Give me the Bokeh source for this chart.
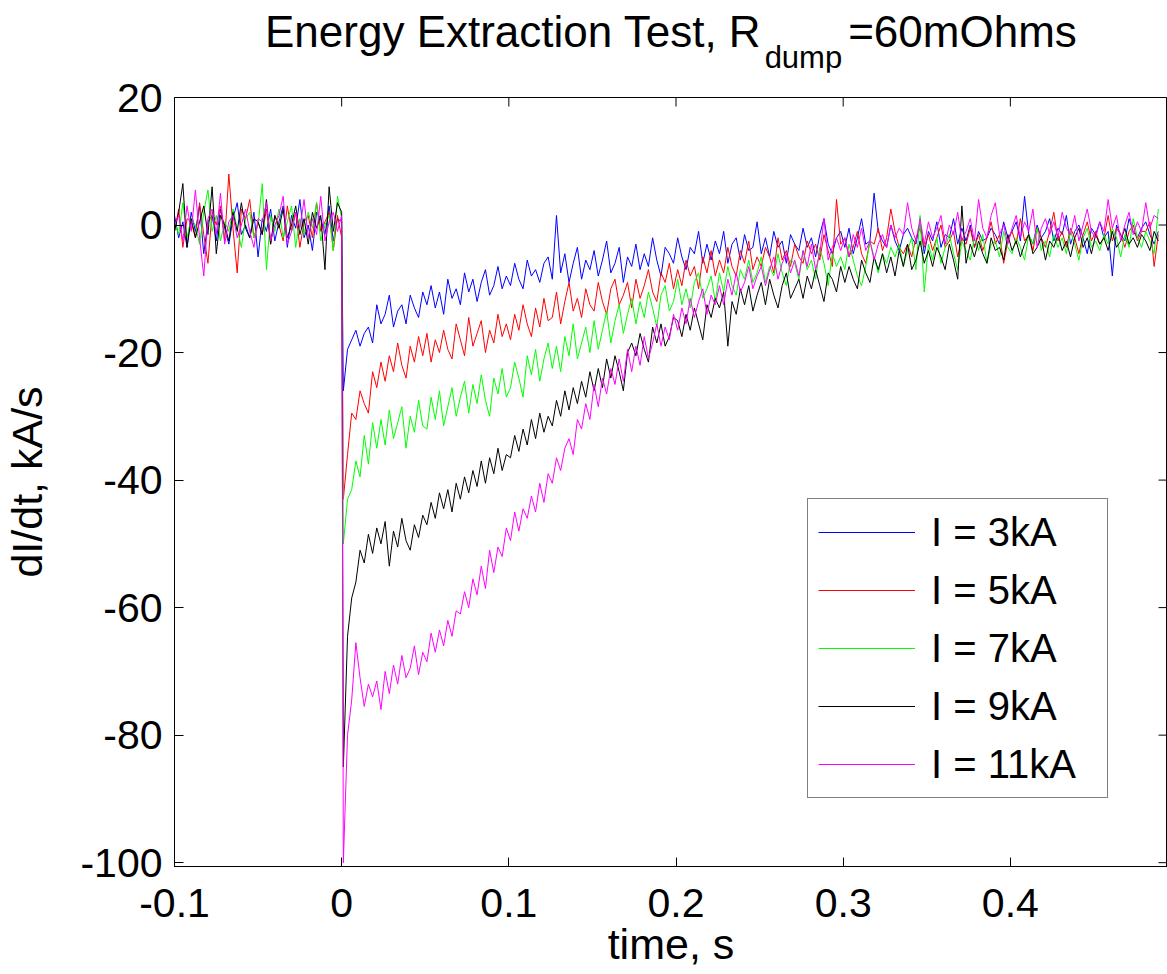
import numpy as np
from bokeh.plotting import figure
from bokeh.models import Range1d, Legend, LegendItem, FixedTicker, Div
from bokeh.layouts import column
from bokeh.embed import file_html
from bokeh.resources import INLINE

FONT = "Liberation Sans"

# sampling grid (s): pre-trigger and post-trigger samples
t_pre = np.round(-0.1 + 0.0025 * np.arange(41), 5)
t_post = np.round(0.001 + 0.0025 * np.arange(196), 5)
time_s = np.concatenate([t_pre, t_post])

x_ticks = [-0.1, 0.0, 0.1, 0.2, 0.3, 0.4]
x_tick_labels = ["-0.1", "0", "0.1", "0.2", "0.3", "0.4"]
y_ticks = [-100, -80, -60, -40, -20, 0, 20]
y_tick_labels = ["-100", "-80", "-60", "-40", "-20", "0", "20"]

labels = ["I = 3kA", "I = 5kA", "I = 7kA", "I = 9kA", "I = 11kA"]
colors = ["#0000FF", "#FF0000", "#00FF00", "#000000", "#FF00FF"]

title_main, title_sub, title_end = "Energy Extraction Test, R", "dump", "=60mOhms"

# dI/dt, kA/s
blue_pre = [1.5, -2.0, 0.5, -3.5, 2.0, -1.0, 3.0, -4.5, 0.5, 1.5,
            -2.5, 2.5, -0.5, -3.0, 1.0, 3.5, -1.5, 0.0, -2.0, 2.0,
            -5.0, 1.0, -1.0, 2.5, -2.5, 0.5, 3.0, -3.5, 1.5, -0.5,
            4.0, -2.0, 0.0, -4.0, 2.0, 1.0, -1.5, 3.0, -2.5, 1.0, 0.5]
blue_post = [-26.0, -19.5, -18.0, -16.5, -19.0, -17.0, -16.0, -18.5, -12.5, -15.5,
             -14.0, -11.0, -16.0, -13.5, -12.5, -15.5, -11.0, -13.0, -14.5, -10.5,
             -12.5, -9.5, -13.0, -10.5, -14.0, -8.5, -11.5, -10.0, -12.5, -7.5,
             -10.5, -8.5, -12.0, -9.0, -7.0, -11.0, -9.5, -6.5, -10.0, -8.0,
             -9.5, -6.0, -8.5, -10.0, -5.5, -8.0, -7.0, -9.0, -6.0, -5.0,
             -8.5, 1.5, -7.5, -4.5, -9.0, -6.0, -3.5, -8.5, -5.5, -7.0,
             -4.0, -8.0, -5.5, -2.5, -7.5, -6.0, -3.5, -9.0, -5.0, -6.5,
             -3.0, -7.0, -4.5, -6.5, -2.0, -5.5, -8.0, -3.5, -4.5, -6.0,
             -2.0, -5.0, -7.0, -3.5, -4.5, -1.0, -6.0, -3.0, -5.5, -2.5,
             -4.5, -1.0, -6.0, -3.0, -2.0, -5.5, -1.5, -4.0, -3.5, 0.5,
             -4.5, -2.0, -5.0, -1.0, -3.5, -2.5, -6.0, -1.5, -3.0, -4.0,
             -0.5, -3.5, -2.0, -5.0, -1.5, 1.0, -3.0, -4.5, -2.0, -1.0,
             -3.5, -0.5, -4.5, -2.0, 1.0, -3.0, -2.5, 5.0, -1.0, -2.5,
             -3.5, 0.0, -2.5, -4.0, -1.5, -0.5, -2.0, -3.0, 0.5, -4.5,
             -1.0, -2.5, 0.5, -3.5, -1.5, -2.0, 1.0, -3.0, -0.5, -2.5,
             0.0, -3.5, -1.0, -2.5, -2.0, -0.5, -1.5, -3.0, 0.5, -2.0,
             -1.0, 0.5, -2.5, 4.5, -1.5, -3.0, 0.0, -2.0, -1.0, 1.0,
             -2.5, -0.5, -1.5, 1.5, -3.0, -1.0, 0.0, -2.0, -4.5, -0.5,
             -1.5, 0.5, -2.0, -1.0, -8.0, 0.0, -1.5, -2.5, 1.0, -1.0,
             -2.0, -0.5, 0.5, -1.5, -3.0, -1.0]

red_pre = [-1.0, 2.5, -3.5, 1.0, 0.5, -2.0, 3.5, -1.5, -6.0, 2.0,
           0.0, 3.0, -2.5, 8.0, -0.5, -7.5, 2.5, 1.0, 4.0, -2.0,
           0.5, -1.5, 2.5, -3.0, 1.5, 0.0, -2.5, 3.0, -1.0, 2.0,
           -3.5, 0.5, 1.5, -2.0, 3.5, -1.0, 0.5, 2.0, -4.0, 1.5, -2.0]
red_post = [-43.0, -36.0, -29.5, -30.5, -26.0, -28.0, -29.5, -23.0, -25.5, -21.5,
            -24.5, -20.5, -23.0, -18.5, -22.0, -24.0, -19.0, -21.5, -17.5, -20.5,
            -17.0, -21.5, -18.0, -20.0, -16.5, -19.5, -21.0, -15.5, -18.0, -20.5,
            -14.5, -19.0, -17.0, -15.0, -20.0, -16.5, -18.5, -14.0, -17.5, -15.5,
            -18.0, -14.0, -16.5, -12.5, -15.5, -17.5, -13.0, -16.0, -11.5, -15.0,
            -14.5, -10.5, -15.5, -12.0, -9.0, -13.5, -11.5, -14.5, -10.0, -12.5,
            -13.5, -9.0, -12.0, -14.0, -10.0, -8.5, -12.5, -11.0, -9.0, -13.0,
            -8.5, -11.5, -9.5, -7.0, -10.5, -12.0, -7.5, -9.0, -6.0, -10.0,
            -7.0, -9.5, -5.5, -8.0, -6.5, -10.0, -5.0, -7.5, -4.0, -8.0,
            -5.5, -7.5, -3.5, -6.5, -8.0, -4.0, -6.0, -2.5, -7.0, -5.0,
            -6.5, -3.5, -5.0, -7.5, -2.0, -5.5, -4.0, -6.5, -3.0, -5.0,
            -6.0, -2.5, -4.5, -3.0, -5.5, -1.5, -4.0, -6.5, 4.0, -3.0,
            -2.0, -5.0, -3.5, -1.0, -4.5, -6.0, -2.5, -3.0, -0.5, -4.0,
            -2.0, 2.5, -1.0, -3.5, -4.5, -3.0, -5.0, -2.0, -0.5, -3.5,
            -1.5, -4.0, -2.0, 0.0, -3.5, -2.5, -1.0, -5.0, -2.0, -3.0,
            -0.5, -3.5, -1.5, -4.0, -2.0, 0.5, -3.0, -1.5, -6.0, -2.5,
            -1.0, -3.0, 1.0, -2.5, -1.5, -4.0, -0.5, -2.0, -3.5, -1.0,
            2.0, -2.5, -1.0, -3.5, -0.5, -2.0, -4.5, -1.5, 0.5, -2.5,
            -1.0, -3.0, -2.0, 1.5, -2.5, -0.5, -1.5, -3.5, -1.0, 0.0,
            -2.5, -1.0, -1.0, 0.5, -6.5, -1.5]

green_pre = [0.5, -1.5, 3.5, -2.0, 1.0, 0.0, -3.0, 2.0, 5.5, -1.0,
             1.5, -2.5, 0.5, -1.0, 2.5, -0.5, -3.5, 1.0, 2.0, -2.0,
             0.0, 6.5, -7.0, 1.5, -1.0, 2.5, -2.0, 0.5, 3.0, -3.5,
             1.0, -1.5, 2.0, -0.5, 3.5, -2.5, 0.0, 1.5, -4.0, 4.5, 1.0]
green_post = [-50.0, -43.0, -41.5, -37.0, -39.5, -33.0, -37.5, -31.0, -35.0, -30.5,
              -34.5, -29.0, -33.5, -31.0, -28.5, -35.0, -30.0, -32.5, -27.5, -31.5,
              -32.0, -27.0, -30.5, -26.0, -31.5, -28.5, -25.5, -30.0, -27.0, -24.5,
              -29.5, -25.0, -28.0, -23.5, -27.5, -30.0, -24.0, -26.5, -22.5, -27.0,
              -25.5, -21.5, -24.0, -27.0, -20.5, -23.5, -19.5, -24.5, -21.0, -18.5,
              -22.5, -19.0, -23.0, -17.5, -20.5, -15.5, -21.0, -18.5, -16.0, -20.0,
              -15.0, -19.5, -16.5, -13.5, -18.5, -15.0, -12.5, -17.0, -14.0, -11.5,
              -15.5, -12.0, -14.5, -10.5, -13.0, -16.0, -11.0, -9.5, -13.5, -12.0,
              -8.5, -12.5, -10.0, -13.0, -9.0, -7.5, -11.5, -10.0, -8.0, -12.0,
              -7.5, -10.5, -6.5, -9.5, -11.0, -7.0, -8.5, -5.5, -9.0, -7.5,
              -5.0, -9.0, -6.5, -8.0, -4.5, -7.5, -9.5, -5.5, -6.0, -8.5,
              -4.0, -7.0, -5.5, -8.5, -3.5, -6.0, -9.5, -4.5, -6.5, -5.0,
              -7.0, -3.0, -5.5, -8.0, -9.5, -6.5, -2.5, -5.0, -7.5, -4.5,
              -6.0, -3.5, -5.0, -3.0, -6.5, -4.0, -2.0, -7.0, 1.5, -10.5,
              -3.0, -5.5, -2.0, -6.0, -3.5, -1.5, -4.5, -7.0, -2.5, -4.0,
              -5.5, -2.0, -4.0, -1.5, -6.0, -3.0, -2.5, -5.0, -1.0, -3.5,
              -4.5, -2.0, -3.5, -5.5, -1.5, -3.0, -0.5, -4.0, -2.5, -5.0,
              -1.5, -3.5, -2.0, -4.5, -1.0, -3.0, -5.5, -2.0, -0.5, -3.5,
              -2.5, -4.0, -1.5, -3.0, -0.5, -2.0, -5.0, -1.5, -3.5, 1.0,
              -2.0, -3.5, -1.0, -2.5, -4.5, 2.5]

black_pre = [-1.0, 2.0, 6.5, -3.5, 1.0, -2.0, 0.5, 3.0, -1.5, 6.0,
             -4.5, 1.5, 0.0, -2.5, 2.0, -1.0, 3.5, -0.5, -2.0, 1.0,
             0.5, -1.5, 4.0, -3.0, 1.5, -0.5, 2.5, -2.0, 0.0, 3.0,
             -1.5, 1.0, -3.0, 2.0, -0.5, 1.5, -7.0, 6.0, -1.0, 3.5, 2.0]
black_post = [-85.0, -64.5, -58.5, -56.0, -51.0, -53.0, -48.5, -51.5, -47.5, -50.0,
              -46.5, -53.5, -48.0, -50.5, -46.0, -49.5, -51.0, -47.0, -49.0, -45.5,
              -47.0, -43.5, -46.0, -42.0, -44.5, -41.5, -45.0, -40.5, -43.0, -39.5,
              -42.0, -38.5, -41.0, -37.0, -40.5, -36.5, -39.0, -35.0, -38.5, -36.0,
              -36.5, -33.0, -35.5, -32.0, -34.5, -30.5, -33.5, -29.5, -32.5, -30.0,
              -31.5, -27.5, -30.0, -26.0, -29.0, -25.5, -28.0, -24.5, -27.0, -23.0,
              -26.0, -22.5, -25.5, -21.0, -24.0, -20.5, -23.0, -26.0, -20.0, -18.5,
              -20.5, -17.0, -19.5, -21.5, -16.0, -18.5, -15.5, -19.0, -17.5, -14.5,
              -15.0, -17.5, -14.0, -16.5, -13.0, -15.5, -18.0, -12.5, -14.5, -11.5,
              -13.0, -10.5, -19.0, -12.0, -14.0, -10.0, -12.5, -9.5, -13.5, -11.0,
              -9.0, -12.5, -8.5, -11.0, -13.0, -9.5, -7.5, -11.5, -10.0, -8.5,
              -11.5, -8.0, -10.0, -7.0, -9.5, -12.0, -7.5, -8.5, -10.5, -6.5,
              -9.0, -6.5, -8.5, -10.0, -5.5, -7.5, -9.0, -5.0, -7.0, -4.5,
              -7.5, -5.0, -8.0, -4.0, -6.5, -3.0, -7.0, -5.5, -2.5, -6.0,
              -4.0, -6.5, -3.5, -5.0, -7.0, -3.0, -5.5, -8.5, 3.0, -6.0,
              -3.0, -5.0, -2.5, -4.5, -6.0, -2.0, -4.0, -3.5, -5.5, -1.5,
              -4.0, -2.5, -5.0, -3.0, -1.5, -4.5, -3.5, -2.0, -5.5, -2.5,
              -3.5, -1.5, -4.0, -2.5, -5.0, -2.0, -0.5, -3.5, -2.0, -4.5,
              -1.5, -3.0, -2.0, -4.0, -1.0, -3.5, -2.5, -0.5, -3.0, -2.0,
              -3.5, -1.5, -2.5, -4.0, -1.0, -2.5]

magenta_pre = [0.0, 1.5, -2.5, 3.0, -1.0, 5.5, -2.0, -8.0, 1.0, 2.5,
               -1.5, 5.0, -3.0, 0.5, 1.5, -2.0, 0.0, 2.5, -1.0, -3.5,
               1.0, 0.5, 3.5, -2.5, 0.0, 1.5, 4.5, -3.0, -1.0, 2.0,
               -0.5, 4.0, -2.0, 1.0, -1.5, 4.5, -2.5, 0.5, 2.0, -1.0, 1.5]
magenta_post = [-100.0, -80.0, -74.5, -65.5, -71.0, -75.5, -72.0, -74.0, -71.5, -76.0,
                -70.0, -73.5, -69.0, -72.0, -67.5, -71.0, -69.5, -66.0, -70.5, -67.0,
                -68.5, -64.0, -67.0, -63.5, -66.0, -62.0, -64.5, -60.5, -61.0, -57.5,
                -60.0, -55.5, -58.0, -53.5, -57.0, -51.0, -54.5, -50.5, -52.0, -47.5,
                -49.5, -45.0, -48.0, -44.5, -46.0, -42.5, -45.0, -40.5, -43.5, -39.0,
                -40.5, -36.5, -38.5, -35.0, -33.5, -36.0, -30.5, -32.0, -28.0, -30.5,
                -25.0, -28.5, -24.0, -26.5, -22.5, -25.0, -21.0, -24.5, -19.5, -23.0,
                -19.0, -22.0, -17.5, -21.0, -18.5, -15.5, -19.0, -16.0, -18.0, -14.0,
                -16.5, -13.0, -15.5, -11.5, -14.5, -12.0, -10.0, -14.0, -11.0, -12.5,
                -9.5, -12.5, -8.5, -11.0, -7.5, -10.5, -9.0, -6.5, -10.0, -8.0,
                -6.5, -9.5, -7.0, -5.0, -8.5, -6.0, -4.5, -7.5, -5.5, -8.0,
                -4.0, -6.5, -3.0, -7.0, -4.5, 1.0, -5.5, -3.5, -2.0, -4.0,
                -2.0, -5.0, -1.5, -3.5, -0.5, -4.0, -2.5, -5.5, -3.0, -1.5,
                -3.5, 0.0, -2.0, -0.5, -1.5, 3.5, -0.5, -2.5, 1.0, -3.0,
                0.5, -2.0, -0.5, 1.5, -3.0, 0.0, -1.5, 2.0, -2.5, -1.0,
                1.0, -2.5, 4.0, -0.5, -2.0, 1.5, 3.5, -1.5, 0.0, -3.0,
                -0.5, 1.5, -2.0, 0.5, -1.0, 2.5, -3.5, -0.5, 1.0, -1.5,
                0.5, -2.0, 2.0, -0.5, -1.5, 1.5, -2.5, 0.0, 2.5, -1.0,
                -2.0, 0.5, -1.0, 4.0, -0.5, 1.5, -2.5, 0.0, 2.0, -1.5,
                0.5, -1.0, 3.5, -0.5, 1.5, 1.0]

series = [blue_pre + blue_post, red_pre + red_post, green_pre + green_post,
          black_pre + black_post, magenta_pre + magenta_post]

# ---- layout constants (pixels) ----
W, H = 1167, 974
DIV_H = 72
FRAME_L, FRAME_T, FRAME_B, FRAME_R = 172, 97, 866, 1167
X_END = 0.494
Y_START = -100.6
TICK_PX = 9
F, f = 44, 31  # title font sizes
x_per_px = (X_END + 0.1) / (FRAME_R - FRAME_L)
y_per_px = (20 - Y_START) / (FRAME_B - FRAME_T)

# ---- title as HTML (real subscript) ----
w_total = 0.955 * (11.393 * F + 2.501 * f + 5.196 * F) + 10
x0 = int(round((FRAME_L + W) / 2 - w_total / 2)) - 14
title_html = (
    f'<div style="font-family:\'{FONT}\',Arial,sans-serif;font-size:{F}px;line-height:{F}px;'
    f'color:#000;white-space:nowrap;padding-top:10px;padding-left:{x0}px;margin:0;">'
    f'{title_main}<span style="font-size:{f}px;vertical-align:-21px;margin-left:4px;'
    f'margin-right:6px;">{title_sub}</span>{title_end}</div>'
)
title_div = Div(text=title_html, width=W, height=DIV_H, margin=(0, 0, 0, 0))

p = figure(width=W, height=H - DIV_H, output_backend="svg", toolbar_location=None,
           title=None,
           x_range=Range1d(-0.1, X_END), y_range=Range1d(Y_START, 20),
           min_border_left=FRAME_L, min_border_right=0, min_border_top=FRAME_T - DIV_H,
           min_border_bottom=H - FRAME_B, margin=(0, 0, 0, 0))
p.background_fill_color = "white"
p.border_fill_color = "white"
p.outline_line_color = "black"
p.outline_line_width = 1
p.xgrid.visible = False
p.ygrid.visible = False

renderers = []
for ys, c in zip(series, colors):
    m = min(len(time_s), len(ys))
    r = p.line(list(time_s[:m]), ys[:m], line_color=c, line_width=1)
    renderers.append(r)

# inward ticks on the top and right edges of the box (MATLAB style), from the tick lists
p.segment(x0=x_ticks, y0=[20] * len(x_ticks), x1=x_ticks,
          y1=[20 - TICK_PX * y_per_px] * len(x_ticks), line_color="black", line_width=1)
p.segment(x0=[X_END] * len(y_ticks), y0=y_ticks, x1=[X_END - TICK_PX * x_per_px] * len(y_ticks),
          y1=y_ticks, line_color="black", line_width=1)


def style_axis(ax, standoff):
    ax.major_tick_in = TICK_PX
    ax.major_tick_out = 0
    ax.minor_tick_in = 0
    ax.minor_tick_out = 0
    ax.axis_line_color = "black"
    ax.major_tick_line_color = "black"
    ax.major_label_text_font = FONT
    ax.major_label_text_color = "black"
    ax.major_label_text_font_size = "41px"
    ax.major_label_standoff = standoff
    ax.axis_label_text_font = FONT
    ax.axis_label_text_font_style = "normal"
    ax.axis_label_text_color = "black"
    ax.axis_label_text_font_size = "43px"


xa = p.xaxis[0]
xa.ticker = FixedTicker(ticks=x_ticks)
xa.major_label_overrides = {t: s for t, s in zip(x_ticks, x_tick_labels)}
xa.axis_label = "time, s"
style_axis(xa, 22)
xa.axis_label_standoff = 0

ya = p.yaxis[0]
ya.ticker = FixedTicker(ticks=y_ticks)
ya.major_label_overrides = {t: s for t, s in zip(y_ticks, y_tick_labels)}
ya.axis_label = "dI/dt, kA/s"
style_axis(ya, 12)
ya.axis_label_standoff = 26

# ---- legend (native Bokeh legend drawing the series' own line glyphs) ----
LEG_L, LEG_B = 805, 798
PAD, ROW_H, SPACING = 10, 46, 12
GLYPH_W, TXT_L, LEG_R = 97, 928, 1104
legend = Legend(items=[LegendItem(label=l, renderers=[r]) for l, r in zip(labels, renderers)],
                location=(LEG_L - FRAME_L, FRAME_B - LEG_B))
legend.label_text_font = FONT
legend.label_text_font_size = "40px"
legend.label_text_color = "black"
legend.glyph_width = GLYPH_W
legend.glyph_height = ROW_H
legend.label_height = ROW_H
legend.label_standoff = TXT_L - (LEG_L + PAD + GLYPH_W)
legend.label_width = LEG_R - PAD - TXT_L
legend.spacing = SPACING
legend.padding = PAD
legend.margin = 0
legend.border_line_color = "black"
legend.border_line_width = 1
legend.background_fill_color = "white"
legend.background_fill_alpha = 1.0
p.add_layout(legend)

layout = column(title_div, p, spacing=0)
open("out.html", "w").write(file_html(layout, INLINE))
